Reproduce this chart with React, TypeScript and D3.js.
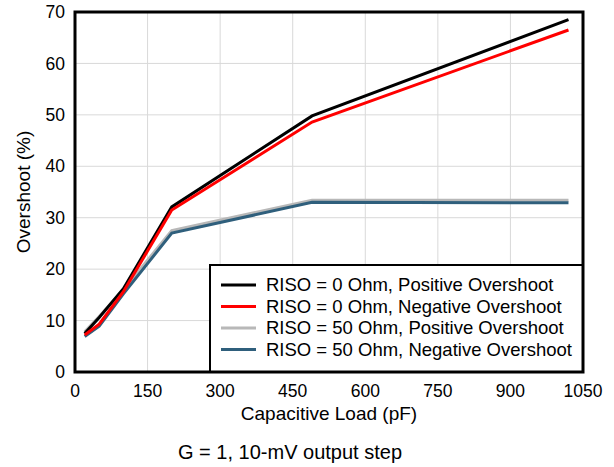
import React from "react";
import * as d3 from "d3";

const capLoad = [20, 50, 100, 200, 490, 1020];
const riso0Pos = [7.5, 10.6, 16.2, 32.1, 49.8, 68.5];
const riso0Neg = [7.2, 9.3, 15.6, 31.5, 48.6, 66.5];
const riso50Pos = [7.8, 10.8, 16.0, 27.5, 33.4, 33.4];
const riso50Neg = [6.9, 8.9, 15.2, 27.0, 33.0, 32.9];
const seriesNames = [
  "RISO = 0 Ohm, Positive Overshoot",
  "RISO = 0 Ohm, Negative Overshoot",
  "RISO = 50 Ohm, Positive Overshoot",
  "RISO = 50 Ohm, Negative Overshoot",
];
const seriesColors = ["#000000", "#ff0000", "#b8b8b8", "#2f5f7c"];
const xTicks = [0, 150, 300, 450, 600, 750, 900, 1050];
const yTicks = [0, 10, 20, 30, 40, 50, 60, 70];

const W = 614, H = 467;
const L = 75, R = 583, T = 12, B = 372;
const FONT = "'Liberation Sans', Arial, sans-serif";

export default function App() {
  const x = d3.scaleLinear().domain([0, 1050]).range([L, R]);
  const y = d3.scaleLinear().domain([0, 70]).range([B, T]);
  const series = [riso0Pos, riso0Neg, riso50Pos, riso50Neg];
  const line = d3.line<number>().x((_, i) => x(capLoad[i])).y((d) => y(d));
  const drawOrder = [2, 3, 0, 1];
  const lg = { x0: 210, y0: 265 };
  const rowY = [285, 306.5, 328, 349.5];
  return (
    <svg width={W} height={H} style={{ position: "absolute", left: 0, top: 0, background: "#fff" }} fontFamily={FONT}>
      <rect x={0} y={0} width={W} height={H} fill="#fff" />
      {xTicks.slice(1, -1).map((t) => (
        <line key={"gx" + t} x1={x(t)} x2={x(t)} y1={T} y2={B} stroke="#d9d9d9" strokeWidth={1} />
      ))}
      {yTicks.slice(1, -1).map((t) => (
        <line key={"gy" + t} x1={L} x2={R} y1={y(t)} y2={y(t)} stroke="#d9d9d9" strokeWidth={1} />
      ))}
      <rect x={lg.x0} y={lg.y0} width={R - lg.x0} height={B - lg.y0} fill="#fff" stroke="#000" strokeWidth={2} />
      {seriesNames.map((n, i) => (
        <g key={n}>
          <line x1={221} x2={256} y1={rowY[i]} y2={rowY[i]} stroke={seriesColors[i]} strokeWidth={3} />
          <text x={266} y={rowY[i]} dy="0.35em" fontSize={18.5} fill="#000">{n}</text>
        </g>
      ))}
      {drawOrder.map((i) => (
        <path key={"s" + i} d={line(series[i]) || ""} fill="none" stroke={seriesColors[i]} strokeWidth={3} strokeLinejoin="miter" />
      ))}
      <rect x={L} y={T} width={R - L} height={B - T} fill="none" stroke="#000" strokeWidth={3} />
      {xTicks.map((t) => (
        <text key={"xt" + t} x={x(t)} y={B + 25} textAnchor="middle" fontSize={17.5} fill="#000">{t}</text>
      ))}
      {yTicks.map((t) => (
        <text key={"yt" + t} x={L - 10} y={y(t)} dy="0.35em" textAnchor="end" fontSize={17.5} fill="#000">{t}</text>
      ))}
      <text x={(L + R) / 2} y={420} textAnchor="middle" fontSize={19} fill="#000">Capacitive Load (pF)</text>
      <text transform={`translate(30, ${(T + B) / 2}) rotate(-90)`} textAnchor="middle" fontSize={19} fill="#000">Overshoot (%)</text>
      <text x={290} y={459} textAnchor="middle" fontSize={20} fill="#000">G = 1, 10-mV output step</text>
    </svg>
  );
}
